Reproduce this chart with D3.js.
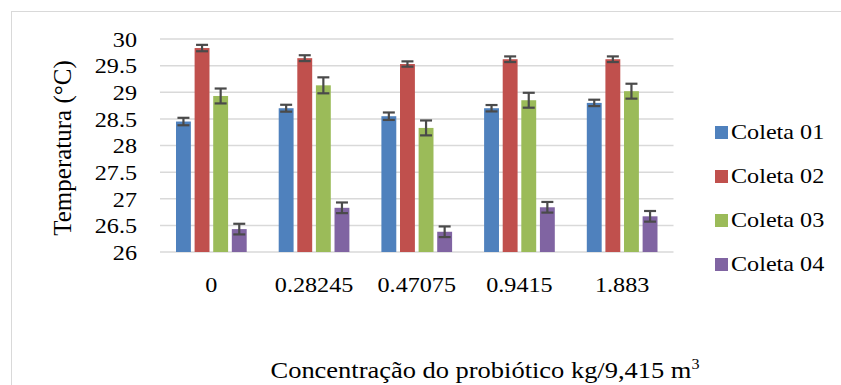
<!DOCTYPE html>
<html><head><meta charset="utf-8">
<script src="https://cdn.jsdelivr.net/npm/d3@7"></script>
<style>html,body{margin:0;padding:0;background:#fff;} svg{display:block;} svg text{font-family:"Liberation Serif","Times New Roman",serif;}</style>
</head><body>
<svg id="chart" width="841" height="385"></svg>
<script>
const categories = ["0", "0.28245", "0.47075", "0.9415", "1.883"];
const seriesNames = ["Coleta 01", "Coleta 02", "Coleta 03", "Coleta 04"];
const coleta01 = [28.45, 28.70, 28.55, 28.70, 28.80];
const coleta02 = [29.83, 29.64, 29.53, 29.62, 29.62];
const coleta03 = [28.93, 29.13, 28.33, 28.85, 29.02];
const coleta04 = [26.43, 26.83, 26.38, 26.84, 26.67];
const err01 = [0.07, 0.065, 0.07, 0.06, 0.06];
const err02 = [0.06, 0.055, 0.05, 0.053, 0.053];
const err03 = [0.14, 0.15, 0.14, 0.14, 0.14];
const err04 = [0.10, 0.10, 0.10, 0.10, 0.10];
const yTicks = [26, 26.5, 27, 27.5, 28, 28.5, 29, 29.5, 30];
const colors = ["#4F81BD", "#C0504D", "#9BBB59", "#8064A2"];

const values = [coleta01, coleta02, coleta03, coleta04];
const errors = [err01, err02, err03, err04];
const STRETCH = 1.15;
function stretch(sel) {
  sel.each(function () {
    const L = this.getComputedTextLength();
    d3.select(this).attr("textLength", L * STRETCH).attr("lengthAdjust", "spacingAndGlyphs");
  });
}

const svg = d3.select("#chart");
svg.append("rect").attr("x", 11.5).attr("y", 11.5).attr("width", 840).attr("height", 380)
  .attr("fill", "none").attr("stroke", "#d9d9d9").attr("stroke-width", 1);

const x0 = d3.scaleBand().domain(categories).range([160, 673.5]).paddingInner(0).paddingOuter(0);
const x1 = d3.scaleBand().domain(seriesNames).range([16, x0.bandwidth() - 16]).paddingInner(0.2);
const y = d3.scaleLinear().domain([26, 30]).range([252, 39]);

svg.append("g").selectAll("line").data(yTicks).join("line")
  .attr("x1", 160).attr("x2", 673.5)
  .attr("y1", d => y(d)).attr("y2", d => y(d))
  .attr("stroke", "#d9d9d9").attr("stroke-width", 1.5);

const yAxis = d3.axisLeft(y).tickValues(yTicks).tickFormat(d => String(d)).tickSize(0).tickPadding(0);
const gy = svg.append("g").attr("transform", "translate(137,0)").call(yAxis);
gy.attr("font-family", null).attr("font-size", null);
gy.select(".domain").remove();
gy.selectAll("text").attr("font-size", 21).attr("fill", "#000").attr("dy", "0.35em").call(stretch);

const xAxis = d3.axisBottom(x0).tickSize(0).tickPadding(0);
const gx = svg.append("g").attr("transform", "translate(0,277)").call(xAxis);
gx.attr("font-family", null).attr("font-size", null);
gx.select(".domain").remove();
gx.selectAll("text").attr("font-size", 21).attr("fill", "#000").attr("dy", "0.71em").call(stretch);

const groups = svg.append("g").selectAll("g").data(categories).join("g")
  .attr("transform", c => `translate(${x0(c)},0)`);
seriesNames.forEach((s, si) => {
  groups.append("rect")
    .attr("x", x1(s)).attr("width", x1.bandwidth())
    .attr("y", (c, ci) => y(values[si][ci]))
    .attr("height", (c, ci) => y(26) - y(values[si][ci]))
    .attr("fill", colors[si]);
});
seriesNames.forEach((s, si) => {
  const cx = x1(s) + x1.bandwidth() / 2;
  const eg = groups.append("g").attr("stroke", "#4a4a4a").attr("stroke-width", 2.2);
  eg.append("line").attr("x1", cx).attr("x2", cx)
    .attr("y1", (c, ci) => y(values[si][ci] + errors[si][ci]))
    .attr("y2", (c, ci) => y(values[si][ci] - errors[si][ci]));
  eg.append("line").attr("x1", cx - 6).attr("x2", cx + 6)
    .attr("y1", (c, ci) => y(values[si][ci] + errors[si][ci]))
    .attr("y2", (c, ci) => y(values[si][ci] + errors[si][ci]));
  eg.append("line").attr("x1", cx - 6).attr("x2", cx + 6)
    .attr("y1", (c, ci) => y(values[si][ci] - errors[si][ci]))
    .attr("y2", (c, ci) => y(values[si][ci] - errors[si][ci]));
});

svg.append("text").attr("transform", "translate(71,148) rotate(-90)")
  .attr("text-anchor", "middle").attr("font-size", 25).attr("fill", "#000")
  .text("Temperatura (°C)");

const xt = svg.append("text").attr("x", 485).attr("y", 378).attr("text-anchor", "middle")
  .attr("font-size", 23).attr("fill", "#000");
xt.append("tspan").text("Concentração do probiótico kg/9,415 m").call(stretch);
xt.append("tspan").attr("font-size", 14).attr("dy", -9).text("3").call(stretch);

const lg = svg.append("g").selectAll("g").data(seriesNames).join("g")
  .attr("transform", (d, i) => `translate(715,${132 + i * 44})`);
lg.append("rect").attr("x", 0).attr("y", -6).attr("width", 13).attr("height", 13).attr("fill", (d, i) => colors[i]);
lg.append("text").attr("x", 16).attr("y", 0).attr("dy", "0.35em").attr("font-size", 21).attr("fill", "#000").text(d => d).call(stretch);
</script>
</body></html>
